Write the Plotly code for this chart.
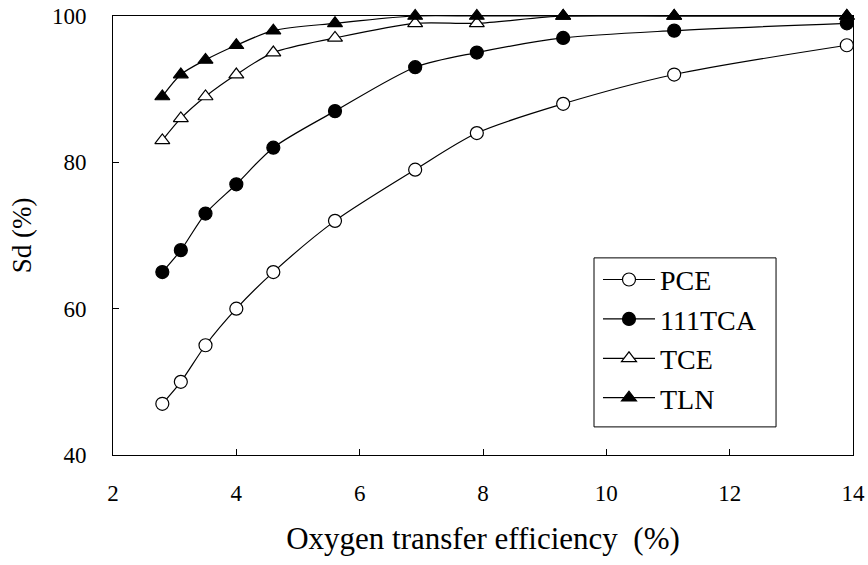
import plotly.graph_objects as go

x = [2.8, 3.1, 3.5, 4.0, 4.6, 5.6, 6.9, 7.9, 9.3, 11.1, 13.9]
pce = [47, 50, 55, 60, 65, 72, 79, 84, 88, 92, 96]
tca = [65, 68, 73, 77, 82, 87, 93, 95, 97, 98, 99]
tce = [83, 86, 89, 92, 95, 97, 99, 99, 100, 100, 100]
tln = [89, 92, 94, 96, 98, 99, 100, 100, 100, 100, 100]

series = [
    ("PCE", pce, "circle", "white"),
    ("111TCA", tca, "circle", "black"),
    ("TCE", tce, "triangle-up", "white"),
    ("TLN", tln, "triangle-up", "black"),
]

fig = go.Figure()
for name, ys, sym, fill in series:
    fig.add_trace(go.Scatter(
        x=x, y=ys, name=name, mode="lines+markers",
        line=dict(color="black", width=1.2, shape="spline", smoothing=0.8),
        marker=dict(symbol=sym, size=13, color=fill,
                    line=dict(color="black", width=1.2)),
        cliponaxis=False,
    ))

# legend frame (drawn as a box in paper coordinates around the legend)
fig.add_shape(type="rect", xref="x domain", yref="y domain",
              x0=0.650, x1=0.896, y0=0.064, y1=0.449,
              line=dict(color="black", width=1), fillcolor="white", layer="below")

font = "Liberation Serif, Times New Roman, serif"
fig.update_layout(
    width=868, height=565,
    margin=dict(l=113, r=15, t=16, b=110),
    paper_bgcolor="white", plot_bgcolor="white",
    font=dict(family=font, size=23, color="black"),
    showlegend=True,
    legend=dict(x=0.6554, y=0.456, xanchor="left", yanchor="top",
                bgcolor="rgba(0,0,0,0)", borderwidth=0,
                font=dict(size=28), tracegroupgap=0, itemwidth=52),
    xaxis=dict(range=[2, 14], tickvals=[2, 4, 6, 8, 10, 12, 14],
               showline=True, linecolor="black", linewidth=1, mirror=True,
               ticks="inside", ticklen=6, tickcolor="black", showgrid=False,
               zeroline=False, ticklabelstandoff=17, automargin=False,
               title=dict(text="Oxygen transfer efficiency  (%)", font=dict(size=31), standoff=22)),
    yaxis=dict(range=[40, 100], tickvals=[40, 60, 80, 100],
               showline=True, linecolor="black", linewidth=1, mirror=True,
               ticks="inside", ticklen=6, tickcolor="black", showgrid=False,
               zeroline=False, ticklabelstandoff=21, automargin=False,
               title=dict(text="Sd (%)", font=dict(size=27), standoff=12)),
)

fig.write_html("out.html")
